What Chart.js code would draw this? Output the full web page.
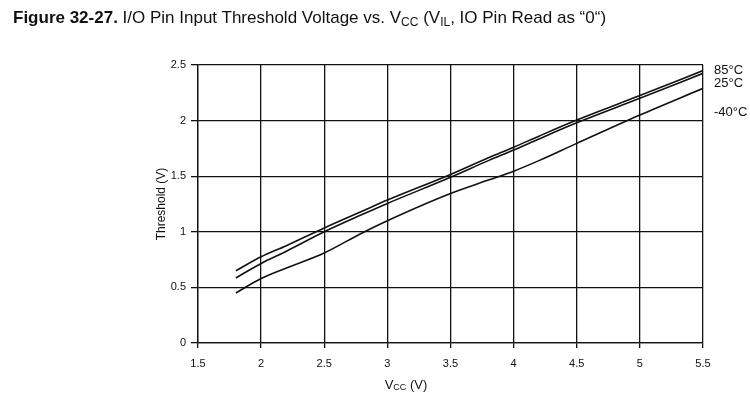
<!DOCTYPE html>
<html>
<head>
<meta charset="utf-8">
<script src="https://cdn.jsdelivr.net/npm/chart.js@4/dist/chart.umd.min.js"></script>
<style>
  html, body { margin: 0; padding: 0; background: #fff; }
  #wrap { position: relative; width: 750px; height: 396px; overflow: hidden; }
  #chart { position: absolute; left: 0; top: 0; }
  #title {
    position: absolute; left: 13px; top: 8px;
    font-family: 'Liberation Sans', Arial, sans-serif;
    font-size: 17px; color: #111; white-space: nowrap;
  }
  #title b { font-weight: bold; }
  #title sub { font-size: 12px; vertical-align: -3px; }
</style>
</head>
<body>
<div id="wrap">
  <canvas id="chart" width="750" height="396"></canvas>
  <div id="title"><b>Figure 32-27.</b> I/O Pin Input Threshold Voltage vs. V<sub>CC</sub> (V<sub>IL</sub>, IO Pin Read as “0“)</div>
</div>
<script>
// ── Data ──────────────────────────────────
const vcc      = [1.8, 2.0, 2.2, 2.5, 2.8, 3.0, 3.5, 3.8, 4.0, 4.2, 4.5, 5.0, 5.5];
const vil85    = [0.65, 0.775, 0.875, 1.035, 1.185, 1.285, 1.515, 1.665, 1.76, 1.86, 2.005, 2.225, 2.45];
const vil25    = [0.585, 0.715, 0.825, 1.0, 1.155, 1.255, 1.49, 1.64, 1.735, 1.835, 1.98, 2.2, 2.425];
const vilM40   = [0.45, 0.58, 0.675, 0.81, 0.99, 1.1, 1.345, 1.465, 1.545, 1.64, 1.795, 2.05, 2.29];
const seriesNames = ['85°C', '25°C', '-40°C'];

const FONT = "'Liberation Sans', Arial, sans-serif";
const INK = '#111';

function toPoints(ys) {
  return vcc.map((x, i) => ({ x, y: ys[i] }));
}

function lineSet(label, ys) {
  return {
    label,
    data: toPoints(ys),
    borderColor: INK,
    borderWidth: 1.6,
    pointRadius: 0,
    fill: false,
    cubicInterpolationMode: 'monotone',
  };
}

// tick text like "2" rather than "2.0"
const tickText = (v) => String(Math.round(v * 10) / 10);

// ── Series labels at right end + x title with subscript ──
const annotatePlugin = {
  id: 'annotate',
  afterDraw(chart, args, opts) {
    const { ctx, chartArea } = chart;
    const yScale = chart.scales.y;
    ctx.save();
    ctx.fillStyle = INK;
    ctx.textBaseline = 'alphabetic';
    ctx.textAlign = 'left';
    ctx.font = `13px ${FONT}`;
    chart.data.datasets.forEach((ds, i) => {
      const last = ds.data[ds.data.length - 1];
      const y = yScale.getPixelForValue(last.y) + opts.offsets[i];
      ctx.fillText(ds.label, chartArea.right + opts.gap, y);
    });

    // x axis title: V_CC (V)
    const cx = opts.xTitleX;
    const by = opts.xTitleY;
    ctx.font = `13px ${FONT}`;
    const wV = ctx.measureText('V').width;
    ctx.font = `9px ${FONT}`;
    const wCC = ctx.measureText('CC').width;
    ctx.font = `13px ${FONT}`;
    const wRest = ctx.measureText(' (V)').width;
    let x = cx - (wV + wCC + wRest) / 2;
    ctx.fillText('V', x, by);
    x += wV;
    ctx.font = `9px ${FONT}`;
    ctx.fillText('CC', x, by + 1);
    x += wCC;
    ctx.font = `13px ${FONT}`;
    ctx.fillText(' (V)', x, by);
    ctx.restore();
  },
};

new Chart(document.getElementById('chart'), {
  type: 'line',
  data: {
    datasets: [
      lineSet(seriesNames[0], vil85),
      lineSet(seriesNames[1], vil25),
      lineSet(seriesNames[2], vilM40),
    ],
  },
  options: {
    responsive: false,
    animation: false,
    layout: { padding: { left: 150, top: 65, right: 47, bottom: 0 } },
    scales: {
      x: {
        type: 'linear',
        min: 1.5,
        max: 5.5,
        ticks: { stepSize: 0.5, color: INK, padding: 9, font: { family: FONT, size: 11 }, maxRotation: 0, callback: tickText },
        grid: { color: INK, lineWidth: 1.3, tickLength: 5 },
        border: { color: INK, width: 1.3 },
        afterFit(scale) { scale.height = 53; },
      },
      y: {
        min: 0,
        max: 2.5,
        ticks: { stepSize: 0.5, color: INK, padding: 5, font: { family: FONT, size: 11 }, callback: tickText },
        grid: { color: INK, lineWidth: 1.3, tickLength: 7 },
        border: { color: INK, width: 1.3 },
        title: { display: true, text: 'Threshold (V)', color: INK, font: { family: FONT, size: 12 }, padding: { top: 4, bottom: 0 } },
        afterFit(scale) { scale.width = 48; },
      },
    },
    plugins: {
      legend: { display: false },
      tooltip: { enabled: false },
      annotate: { gap: 11, offsets: [3.5, 13.5, 28], xTitleX: 406, xTitleY: 389 },
    },
  },
  plugins: [annotatePlugin],
});
</script>
</body>
</html>
